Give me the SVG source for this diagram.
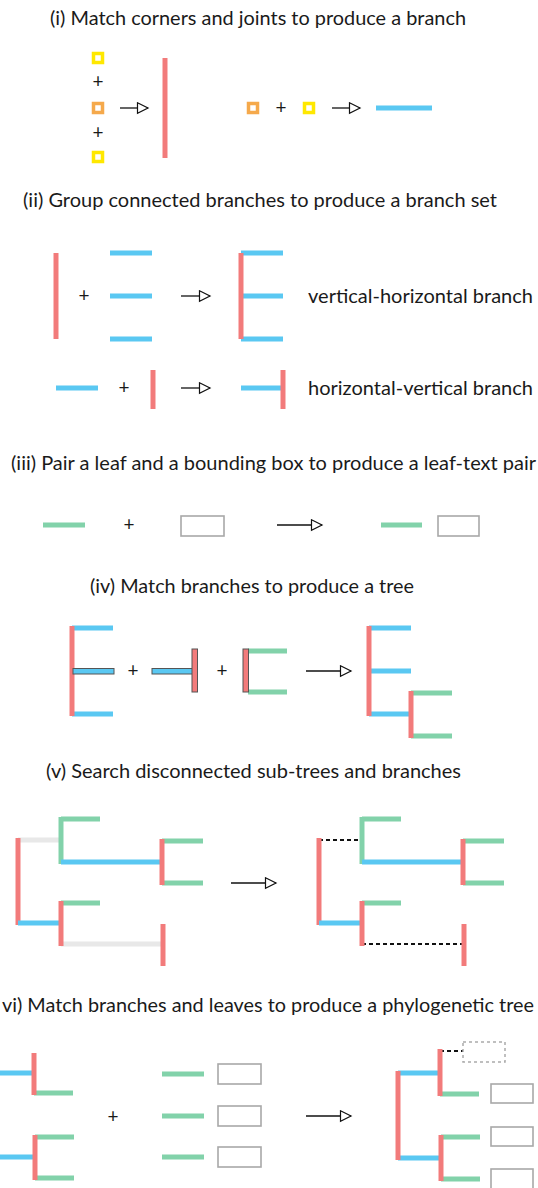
<svg xmlns="http://www.w3.org/2000/svg" width="538" height="1188" viewBox="0 0 538 1188">
<style>
.t{font-family:Lato,"Liberation Sans",sans-serif;font-size:19px;fill:#1a1a1a}
.p{font-family:Lato,"Liberation Sans",sans-serif;font-size:19px;fill:#1a1a1a;text-anchor:middle}
.r{stroke:#F27B7B;stroke-width:5;fill:none}
.b{stroke:#5AC8F2;stroke-width:5;fill:none}
.g{stroke:#82D2AA;stroke-width:5;fill:none}
.gy{stroke:#E8E8E8;stroke-width:5;fill:none}
.d{stroke:#111;stroke-width:2;stroke-dasharray:4 3;fill:none}
.bx{fill:#fff;stroke:#A8A8A8;stroke-width:1.6}
.dbx{fill:none;stroke:#AAAAAA;stroke-width:1.5;stroke-dasharray:3 3}
.ys{fill:#fff;stroke:#FFE800;stroke-width:3.5}
.os{fill:#fff;stroke:#F5A94B;stroke-width:3.5}
.ob{fill:#5AC8F2;stroke:#555;stroke-width:1}
.or{fill:#F27B7B;stroke:#555;stroke-width:1}
.a{stroke:#111;stroke-width:1.3;fill:none;marker-end:url(#ah)}
</style>
<defs>
<marker id="ah" markerUnits="userSpaceOnUse" markerWidth="14" markerHeight="14" refX="12" refY="6" orient="auto">
<path d="M1.5,0.8 L12,6 L1.5,11.2 Z" fill="#fff" stroke="#111" stroke-width="1.2"/>
</marker>
</defs>

<!-- Titles -->
<g id="titles">
<text class="t" x="50" y="25" textLength="416" lengthAdjust="spacingAndGlyphs">(i) Match corners and joints to produce a branch</text>
<text class="t" x="23" y="207" textLength="474" lengthAdjust="spacingAndGlyphs">(ii) Group connected branches to produce a branch set</text>
<text class="t" x="11" y="470" textLength="525" lengthAdjust="spacingAndGlyphs">(iii) Pair a leaf and a bounding box to produce a leaf-text pair</text>
<text class="t" x="90" y="593" textLength="324" lengthAdjust="spacingAndGlyphs">(iv) Match branches to produce a tree</text>
<text class="t" x="46" y="778" textLength="415" lengthAdjust="spacingAndGlyphs">(v) Search disconnected sub-trees and branches</text>
<text class="t" x="2" y="1012" textLength="532" lengthAdjust="spacingAndGlyphs">vi) Match branches and leaves to produce a phylogenetic tree</text>
</g>

<!-- Section i -->
<g id="s1-corners">
<rect class="ys" x="93.5" y="53.5" width="9" height="9"/>
<text class="p" x="98" y="88">+</text>
<rect class="os" x="93.5" y="103.5" width="9" height="9"/>
<text class="p" x="98" y="139">+</text>
<rect class="ys" x="93.5" y="152.5" width="9" height="9"/>
</g>
<g id="s1-vbranch"><line class="r" x1="165" y1="58" x2="165" y2="158"/></g>
<g id="s1-joints">
<rect class="os" x="248.5" y="103.5" width="9" height="9"/>
<text class="p" x="281" y="114">+</text>
<rect class="ys" x="304.5" y="103.5" width="9" height="9"/>
</g>
<g id="s1-hbranch"><line class="b" x1="376" y1="108" x2="432" y2="108"/></g>

<!-- Section ii -->
<g id="s2-inputs1">
<line class="r" x1="56" y1="253" x2="56" y2="339"/>
<text class="p" x="84" y="302">+</text>
<line class="b" x1="110" y1="253" x2="152" y2="253"/>
<line class="b" x1="110" y1="296" x2="152" y2="296"/>
<line class="b" x1="110" y1="339" x2="152" y2="339"/>
</g>
<g id="s2-vh">
<line class="b" x1="241" y1="253" x2="283" y2="253"/>
<line class="b" x1="241" y1="296" x2="283" y2="296"/>
<line class="b" x1="241" y1="339" x2="283" y2="339"/>
<line class="r" x1="241" y1="253" x2="241" y2="339"/>
<text class="t" x="308" y="303" textLength="225" lengthAdjust="spacingAndGlyphs">vertical-horizontal branch</text>
</g>
<g id="s2-inputs2">
<line class="b" x1="56" y1="388" x2="98" y2="388"/>
<text class="p" x="124" y="394">+</text>
<line class="r" x1="153" y1="370" x2="153" y2="409"/>
</g>
<g id="s2-hv">
<line class="b" x1="241" y1="388" x2="282" y2="388"/>
<line class="r" x1="283" y1="370" x2="283" y2="409"/>
<text class="t" x="308" y="395" textLength="225" lengthAdjust="spacingAndGlyphs">horizontal-vertical branch</text>
</g>

<!-- Section iii -->
<g id="s3-inputs">
<line class="g" x1="43" y1="525" x2="85" y2="525"/>
<text class="p" x="129" y="531">+</text>
<rect class="bx" x="181" y="516" width="43" height="20"/>
</g>
<g id="s3-pair">
<line class="g" x1="381" y1="525" x2="422" y2="525"/>
<rect class="bx" x="438" y="516" width="41" height="20"/>
</g>

<!-- Section iv -->
<g id="s4-branchA">
<line class="b" x1="72" y1="628" x2="113" y2="628"/>
<line class="b" x1="72" y1="714" x2="113" y2="714"/>
<line class="r" x1="72" y1="626" x2="72" y2="716"/>
<rect class="ob" x="73" y="668.5" width="41" height="5.5"/>
</g>
<text class="p" x="133" y="677">+</text>
<g id="s4-branchB">
<rect class="ob" x="152" y="668.5" width="41" height="5.5"/>
<rect class="or" x="192" y="649" width="5.5" height="43"/>
</g>
<text class="p" x="222" y="677">+</text>
<g id="s4-branchC">
<line class="g" x1="248" y1="651" x2="287" y2="651"/>
<line class="g" x1="248" y1="692" x2="287" y2="692"/>
<rect class="or" x="243" y="649" width="5.5" height="43"/>
</g>
<g id="s4-tree">
<line class="b" x1="369" y1="628" x2="411" y2="628"/>
<line class="b" x1="369" y1="671" x2="411" y2="671"/>
<line class="b" x1="369" y1="714" x2="411" y2="714"/>
<line class="r" x1="369" y1="626" x2="369" y2="716"/>
<line class="g" x1="411" y1="693" x2="452" y2="693"/>
<line class="g" x1="411" y1="736" x2="452" y2="736"/>
<line class="r" x1="411" y1="691" x2="411" y2="738"/>
</g>

<!-- Section v -->
<g id="s5-disconnected">
<line class="gy" x1="18" y1="840" x2="61" y2="840"/>
<line class="r" x1="18" y1="838" x2="18" y2="925"/>
<line class="b" x1="18" y1="923" x2="61" y2="923"/>
<line class="g" x1="61" y1="819" x2="100" y2="819"/>
<line class="g" x1="61" y1="817" x2="61" y2="864"/>
<line class="b" x1="61" y1="862" x2="162" y2="862"/>
<line class="g" x1="162" y1="841" x2="203" y2="841"/>
<line class="g" x1="162" y1="883" x2="203" y2="883"/>
<line class="r" x1="162" y1="839" x2="162" y2="885"/>
<line class="g" x1="61" y1="903" x2="100" y2="903"/>
<line class="gy" x1="61" y1="944" x2="162" y2="944"/>
<line class="r" x1="61" y1="901" x2="61" y2="946"/>
<line class="r" x1="163" y1="924" x2="163" y2="966"/>
</g>
<g id="s5-connected">
<line class="d" x1="319" y1="840" x2="362" y2="840"/>
<line class="r" x1="319" y1="838" x2="319" y2="925"/>
<line class="b" x1="319" y1="923" x2="362" y2="923"/>
<line class="g" x1="362" y1="819" x2="401" y2="819"/>
<line class="g" x1="362" y1="817" x2="362" y2="864"/>
<line class="b" x1="362" y1="862" x2="463" y2="862"/>
<line class="g" x1="463" y1="841" x2="504" y2="841"/>
<line class="g" x1="463" y1="883" x2="504" y2="883"/>
<line class="r" x1="463" y1="839" x2="463" y2="885"/>
<line class="g" x1="362" y1="903" x2="401" y2="903"/>
<line class="d" x1="362" y1="944" x2="463" y2="944"/>
<line class="r" x1="362" y1="901" x2="362" y2="946"/>
<line class="r" x1="464" y1="924" x2="464" y2="966"/>
</g>

<!-- Section vi -->
<g id="s6-branches">
<line class="b" x1="0" y1="1073" x2="34" y2="1073"/>
<line class="g" x1="34" y1="1093" x2="73" y2="1093"/>
<line class="r" x1="34" y1="1053" x2="34" y2="1095"/>
<line class="b" x1="0" y1="1157" x2="35" y2="1157"/>
<line class="g" x1="35" y1="1137" x2="74" y2="1137"/>
<line class="g" x1="35" y1="1178" x2="74" y2="1178"/>
<line class="r" x1="35" y1="1135" x2="35" y2="1180"/>
</g>
<text class="p" x="113" y="1123">+</text>
<g id="s6-leaves">
<line class="g" x1="162" y1="1074" x2="204" y2="1074"/>
<rect class="bx" x="218" y="1064" width="43" height="20"/>
<line class="g" x1="162" y1="1116" x2="204" y2="1116"/>
<rect class="bx" x="218" y="1106" width="43" height="20"/>
<line class="g" x1="162" y1="1157" x2="204" y2="1157"/>
<rect class="bx" x="218" y="1147" width="43" height="20"/>
</g>
<g id="s6-tree">
<line class="b" x1="398" y1="1073" x2="440" y2="1073"/>
<line class="b" x1="398" y1="1158" x2="441" y2="1158"/>
<line class="r" x1="398" y1="1071" x2="398" y2="1160"/>
<line class="d" x1="440" y1="1051" x2="463" y2="1051"/>
<rect class="dbx" x="463" y="1042" width="42" height="20"/>
<line class="g" x1="440" y1="1094" x2="479" y2="1094"/>
<line class="r" x1="440" y1="1049" x2="440" y2="1096"/>
<rect class="bx" x="491" y="1084" width="42" height="19"/>
<line class="g" x1="441" y1="1137" x2="480" y2="1137"/>
<line class="g" x1="441" y1="1179" x2="480" y2="1179"/>
<line class="r" x1="441" y1="1135" x2="441" y2="1181"/>
<rect class="bx" x="491" y="1127" width="42" height="19"/>
<rect class="bx" x="491" y="1169" width="42" height="20"/>
</g>

<!-- Connectors -->
<g id="connectors">
<line class="a" x1="120" y1="108" x2="148" y2="108"/>
<line class="a" x1="332" y1="108" x2="360" y2="108"/>
<line class="a" x1="181" y1="296" x2="210" y2="296"/>
<line class="a" x1="181" y1="388" x2="210" y2="388"/>
<line class="a" x1="277" y1="525" x2="322" y2="525"/>
<line class="a" x1="306" y1="671" x2="351" y2="671"/>
<line class="a" x1="231" y1="883" x2="276" y2="883"/>
<line class="a" x1="306" y1="1116" x2="351" y2="1116"/>
</g>
</svg>
